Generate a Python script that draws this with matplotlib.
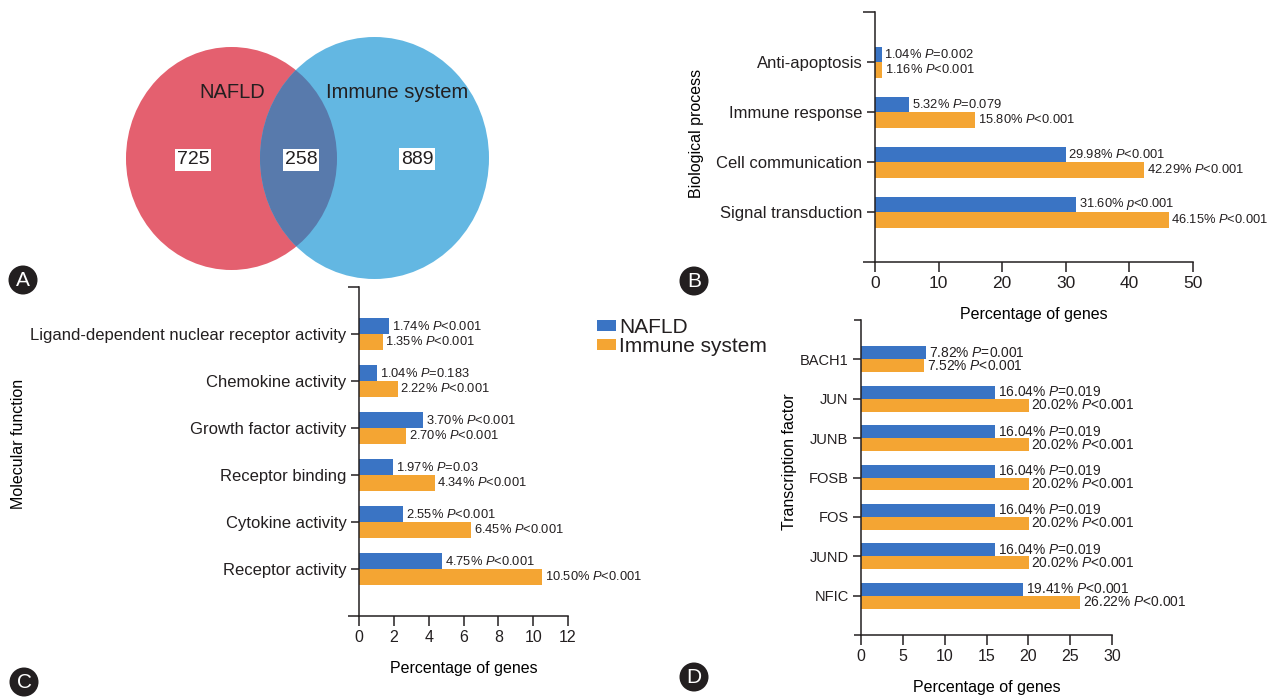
import numpy as np
import matplotlib
matplotlib.use('Agg')
import matplotlib.pyplot as plt
from matplotlib.patches import Ellipse, Circle

ink = '#231F20'
blue = '#3A74C4'
orange = '#F4A533'

plt.rcParams['font.family'] = ['Liberation Sans', 'DejaVu Sans']
plt.rcParams['mathtext.fontset'] = 'custom'
plt.rcParams['mathtext.rm'] = 'Liberation Sans'
plt.rcParams['mathtext.it'] = 'Liberation Sans:italic'
plt.rcParams['text.color'] = ink
plt.rcParams['axes.edgecolor'] = ink
plt.rcParams['xtick.color'] = ink
plt.rcParams['ytick.color'] = ink

W, H = 1272, 698

# Venn counts: NAFLD only, shared, immune system only
venn_names = ['NAFLD', 'Immune system']
venn_counts = [725, 258, 889]

# B: biological process
bp_terms = ['Anti-apoptosis', 'Immune response', 'Cell communication', 'Signal transduction']
bp_nafld = [1.04, 5.32, 29.98, 31.60]
bp_immune = [1.16, 15.80, 42.29, 46.15]
bp_p_nafld = ['P=0.002', 'P=0.079', 'P<0.001', 'p<0.001']
bp_p_immune = ['P<0.001', 'P<0.001', 'P<0.001', 'P<0.001']

# C: molecular function
mf_terms = ['Ligand-dependent nuclear receptor activity', 'Chemokine activity',
            'Growth factor activity', 'Receptor binding', 'Cytokine activity',
            'Receptor activity']
mf_nafld = [1.74, 1.04, 3.70, 1.97, 2.55, 4.75]
mf_immune = [1.35, 2.22, 2.70, 4.34, 6.45, 10.50]
mf_p_nafld = ['P<0.001', 'P=0.183', 'P<0.001', 'P=0.03', 'P<0.001', 'P<0.001']
mf_p_immune = ['P<0.001'] * 6

# D: transcription factor
tf_terms = ['BACH1', 'JUN', 'JUNB', 'FOSB', 'FOS', 'JUND', 'NFIC']
tf_nafld = [7.82, 16.04, 16.04, 16.04, 16.04, 16.04, 19.41]
tf_immune = [7.52, 20.02, 20.02, 20.02, 20.02, 20.02, 26.22]
tf_p_nafld = ['P=0.001'] + ['P=0.019'] * 5 + ['P<0.001']
tf_p_immune = ['P<0.001'] * 7


def px_axes(fig, left, top, right, bottom):
    return fig.add_axes([left / W, 1 - bottom / H, (right - left) / W, (bottom - top) / H])


def pfmt(p):
    # italic P / p, rest upright
    return '$%s$%s' % (p[0], p[1:])


def bar_panel(ax, terms, nafld, immune, p_n, p_i, xmax, xstep, h,
              cat_fs, lab_fs, tick_fs, cap_len):
    n = len(terms)
    y = np.arange(n)
    b1 = ax.barh(y - h / 2, nafld, height=h, color=blue, label='NAFLD')
    b2 = ax.barh(y + h / 2, immune, height=h, color=orange, label='Immune system')
    for bars, vals, ps in ((b1, nafld, p_n), (b2, immune, p_i)):
        for rect, v, p in zip(bars, vals, ps):
            ax.annotate('%.2f%% %s' % (v, pfmt(p)),
                        (v, rect.get_y() + rect.get_height() / 2),
                        xytext=(2.0, 0), textcoords='offset points',
                        va='center', ha='left', fontsize=lab_fs,
                        annotation_clip=False)
    ax.set_xlim(0, xmax)
    ax.set_ylim(n, -1)
    ax.set_xticks(np.arange(0, xmax + xstep / 2, xstep))
    ax.set_yticks(y, terms)
    ax.set_yticks([-1, n], minor=True)
    ax.set_facecolor('none')
    for s in ('top', 'right'):
        ax.spines[s].set_visible(False)
    for s in ('left', 'bottom'):
        ax.spines[s].set_linewidth(1.1)
    ax.tick_params(axis='y', which='major', length=6, width=1.1, pad=3, labelsize=cat_fs)
    ax.tick_params(axis='y', which='minor', length=cap_len, width=1.1)
    ax.tick_params(axis='x', length=7, width=1.1, pad=3, labelsize=tick_fs)
    return b1, b2


fig = plt.figure(figsize=(W / 100, H / 100), dpi=100)

# overlay in pixel units for the Venn diagram and panel letters
ax0 = fig.add_axes([0, 0, 1, 1])
ax0.set_xlim(0, W)
ax0.set_ylim(H, 0)
ax0.axis('off')

red_c = Ellipse((231.5, 158.5), 211, 223, fc='#E4606F', ec='none')
blue_c = Ellipse((374.5, 158), 229, 242, fc='#63B7E2', ec='none')
ax0.add_patch(red_c)
ax0.add_patch(blue_c)
both = ax0.add_patch(Ellipse((231.5, 158.5), 211, 223, fc='#587AAC', ec='none'))
both.set_clip_path(blue_c)

ax0.text(232, 93, venn_names[0], ha='center', va='center', fontsize=14.5)
ax0.text(397, 93, venn_names[1], ha='center', va='center', fontsize=14.5)
box = dict(facecolor='white', edgecolor='none', pad=1.5)
for (x, yy), c in zip([(193, 160), (301, 160), (417, 159)], venn_counts):
    ax0.text(x, yy, str(c), ha='center', va='center', fontsize=14, bbox=box)

for letter, (x, yy) in zip('ABCD', [(23, 280), (694, 281), (24, 682), (694, 677)]):
    ax0.add_patch(Circle((x, yy), 14.5, fc=ink, ec='none'))
    ax0.text(x, yy + 0.5, letter, color='white', ha='center', va='center', fontsize=15)

# B
axb = px_axes(fig, 875, 12, 1193, 262)
hb = bar_panel(axb, bp_terms, bp_nafld, bp_immune, bp_p_nafld, bp_p_immune,
               50, 10, 0.31, 12, 9.3, 12.5, 8.5)
axb.set_xlabel('Percentage of genes', fontsize=11.5, va='center')
axb.xaxis.set_label_coords(0.5, -0.212)
axb.set_ylabel('Biological process', fontsize=11.5, va='center')
axb.yaxis.set_label_coords(-0.56, 0.516)

# C
axc = px_axes(fig, 359, 287, 568, 616)
bar_panel(axc, mf_terms, mf_nafld, mf_immune, mf_p_nafld, mf_p_immune,
          12, 2, 0.33, 12, 9.3, 11.5, 8)
axc.set_xlabel('Percentage of genes', fontsize=11.5, va='center')
axc.xaxis.set_label_coords(0.5, -0.161)
axc.set_ylabel('Molecular function', fontsize=11.5, va='center')
axc.yaxis.set_label_coords(-1.63, 0.523)

# D
axd = px_axes(fig, 861, 320, 1112, 635)
bar_panel(axd, tf_terms, tf_nafld, tf_immune, tf_p_nafld, tf_p_immune,
          30, 5, 0.33, 10.5, 9.9, 11.5, 5)
axd.set_xlabel('Percentage of genes', fontsize=11.5, va='center')
axd.xaxis.set_label_coords(0.5, -0.168)
axd.set_ylabel('Transcription factor', fontsize=11.5, va='center')
axd.yaxis.set_label_coords(-0.283, 0.549)

fig.legend(handles=list(hb), loc='upper left', bbox_to_anchor=(597 / W, 1 - 318 / H),
           frameon=False, fontsize=15, borderpad=0, borderaxespad=0,
           handlelength=0.9, handleheight=0.45, handletextpad=0.15,
           labelspacing=0.0)

fig.savefig('out.png', dpi=100)
